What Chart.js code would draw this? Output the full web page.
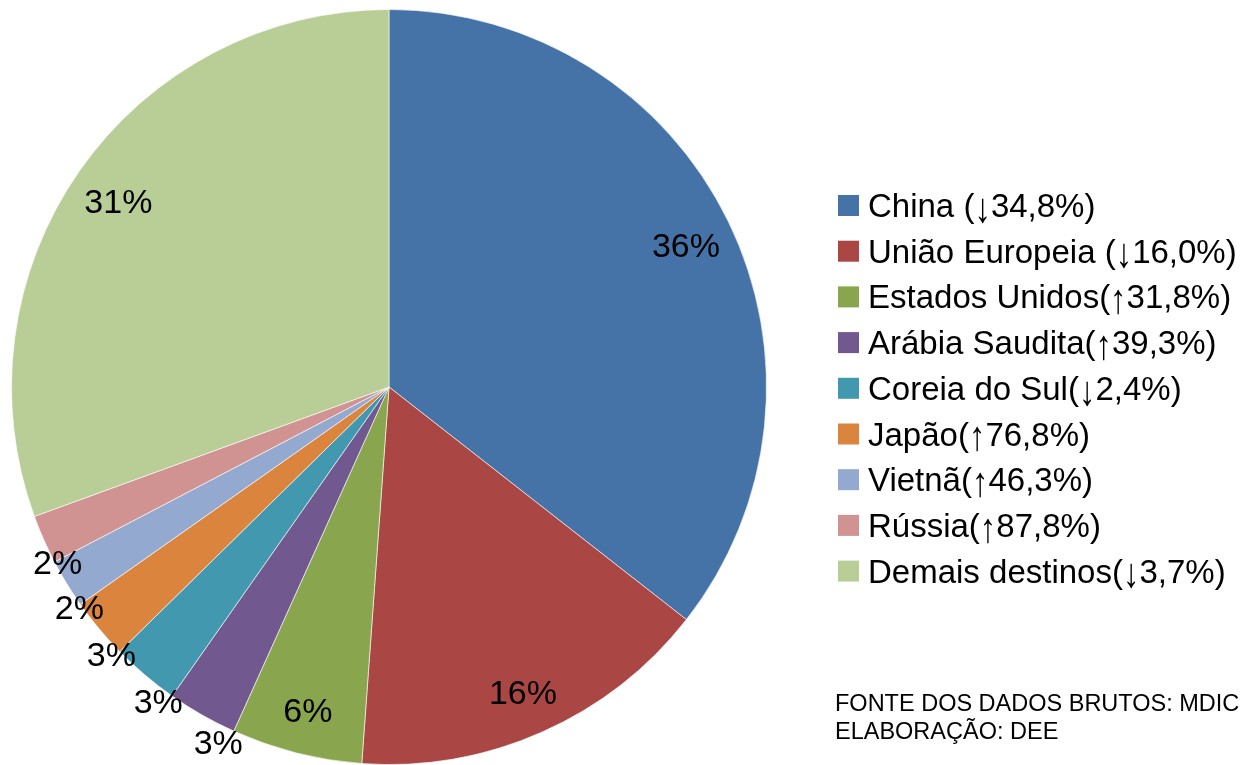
<!DOCTYPE html>
<html>
<head>
<meta charset="utf-8">
<script src="https://cdn.jsdelivr.net/npm/chart.js@4"></script>
<style>
  html, body { margin: 0; padding: 0; background: #fff; }
  #wrap { position: relative; width: 1242px; height: 765px; }
</style>
</head>
<body>
<div id="wrap"><canvas id="c"></canvas></div>
<script>
// destinos das exportações - participação (%)
const destinos = ["China", "União Europeia", "Estados Unidos", "Arábia Saudita", "Coreia do Sul",
    "Japão", "Vietnã", "Rússia", "Demais destinos"];
const legendLabels = ["China (↓34,8%)", "União Europeia (↓16,0%)", "Estados Unidos(↑31,8%)",
    "Arábia Saudita(↑39,3%)", "Coreia do Sul(↓2,4%)", "Japão(↑76,8%)", "Vietnã(↑46,3%)",
    "Rússia(↑87,8%)", "Demais destinos(↓3,7%)"];
const shares = [35.6, 15.6, 5.6, 3.0, 2.9, 2.6, 2.1, 2.1, 30.6];
const colors = ["#4572A7", "#AA4643", "#89A54E", "#71588F", "#4198AF",
    "#DB843D", "#93A9CF", "#D19392", "#B9CD96"];
const footerLines = ["FONTE DOS DADOS BRUTOS: MDIC", "ELABORAÇÃO: DEE"];

const FONT = '"Liberation Sans", Arial, sans-serif';

// percent labels: big slices inside, small ones just outside the rim
const sliceLabels = {
    id: "sliceLabels",
    afterDatasetsDraw(chart) {
        const ctx = chart.ctx;
        const meta = chart.getDatasetMeta(0);
        const total = shares.reduce((a, b) => a + b, 0);
        ctx.save();
        ctx.font = `34px ${FONT}`;
        ctx.fillStyle = "#000";
        ctx.textAlign = "center";
        ctx.textBaseline = "alphabetic";
        meta.data.forEach((arc, i) => {
            const pct = (shares[i] / total) * 100;
            const txt = Math.round(pct) + "%";
            const mid = (arc.startAngle + arc.endAngle) / 2;
            const R = arc.outerRadius;
            let a, r, dy = 12;
            if (pct >= 4) {
                a = mid;
                r = R * 0.875;
                dy = 15;
            } else {
                a = mid - (4 * Math.PI) / 180;
                r = R - 23.6 + 44.7 * Math.sin(a);
            }
            const x = arc.x + Math.cos(a) * r;
            const y = arc.y + Math.sin(a) * r;
            ctx.fillText(txt, x, y + dy);
        });
        ctx.restore();
    },
};

// draws a legend string; the arrow glyph is stretched taller like the original
function drawLegendText(ctx, str, x, base) {
    const k = str.search(/[↑↓]/);
    if (k < 0) {
        ctx.fillText(str, x, base);
        return;
    }
    const pre = str.slice(0, k), arrow = str[k], post = str.slice(k + 1);
    ctx.fillText(pre, x, base);
    let cx = x + ctx.measureText(pre).width;
    const m = ctx.measureText(arrow);
    const asc = m.actualBoundingBoxAscent, desc = m.actualBoundingBoxDescent;
    const sy = 25 / (asc + desc);
    ctx.save();
    ctx.translate(cx, base + 6);
    ctx.scale(1, sy);
    ctx.fillText(arrow, 0, -desc);
    ctx.restore();
    cx += m.width;
    ctx.fillText(post, cx, base);
}

// legend on the right + source note
const sideLegend = {
    id: "sideLegend",
    afterDraw(chart) {
        const ctx = chart.ctx;
        const boxX = 838, box = 21, textX = 868;
        const firstY = 205.5, step = 45.7;
        ctx.save();
        ctx.font = `33px ${FONT}`;
        ctx.textAlign = "left";
        ctx.textBaseline = "alphabetic";
        legendLabels.forEach((lbl, i) => {
            const cy = firstY + i * step;
            ctx.fillStyle = colors[i];
            ctx.fillRect(boxX, cy - box / 2, box, box);
            ctx.fillStyle = "#000";
            drawLegendText(ctx, lbl, textX, cy + 11.5);
        });
        ctx.font = `23.5px ${FONT}`;
        footerLines.forEach((t, i) => {
            ctx.fillText(t, 835, 710.5 + i * 28.6);
        });
        ctx.restore();
    },
};

new Chart(document.getElementById("c"), {
    type: "pie",
    data: {
        labels: destinos,
        datasets: [
            {
                data: shares,
                backgroundColor: colors,
                borderColor: "rgba(255,255,255,0.6)",
                borderWidth: 1,
            },
        ],
    },
    options: {
        responsive: true,
        maintainAspectRatio: false,
        animation: false,
        layout: { padding: { left: 11, top: 9, right: 475, bottom: 0 } },
        plugins: { legend: { display: false }, tooltip: { enabled: false } },
    },
    plugins: [sliceLabels, sideLegend],
});
</script>
</body>
</html>
